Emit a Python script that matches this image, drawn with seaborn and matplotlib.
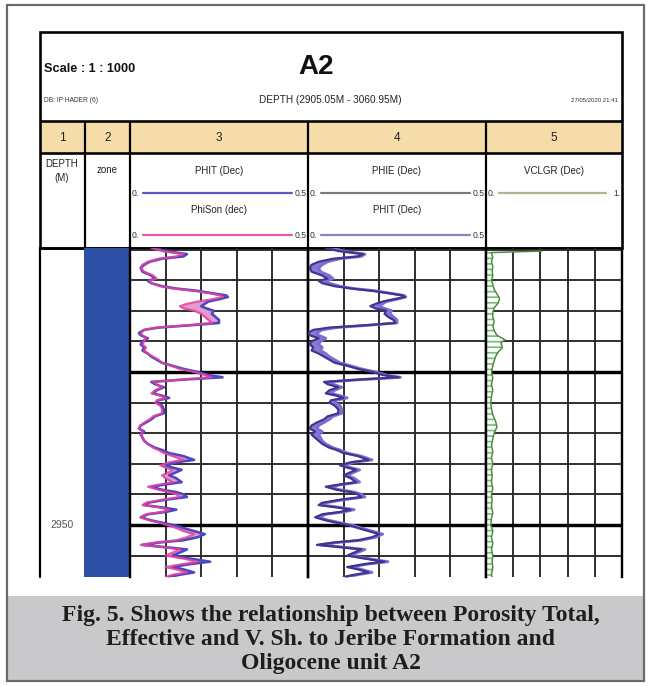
import matplotlib
matplotlib.use("Agg")
import matplotlib.pyplot as plt
from matplotlib.patches import Rectangle
import seaborn as sns

# ---------------- data ----------------
DEPTH = [2931.9, 2932.1, 2932.3, 2932.45, 2932.6, 2932.8, 2933.0, 2933.2, 2933.45, 2933.7,
         2933.9, 2934.05, 2934.2, 2934.4, 2934.55, 2934.7, 2934.85, 2935.0, 2935.1, 2935.25,
         2935.4, 2935.55, 2935.7, 2935.85, 2936.0, 2936.2, 2936.4, 2936.6, 2936.8, 2936.95,
         2937.1, 2937.25, 2937.45, 2937.6, 2937.8, 2938.0, 2938.2, 2938.4, 2938.6, 2938.8,
         2939.0, 2939.2, 2939.4, 2939.6, 2939.8, 2940.0, 2940.2, 2940.35, 2940.5, 2940.65,
         2940.8, 2941.0, 2941.2, 2941.4, 2941.55, 2941.7, 2941.85, 2942.0, 2942.2, 2942.45,
         2942.7, 2942.9, 2943.1, 2943.3, 2943.5, 2943.7, 2943.9, 2944.1, 2944.3, 2944.5,
         2944.7, 2944.95, 2945.1, 2945.3, 2945.5, 2945.75, 2945.9, 2946.1, 2946.25, 2946.4,
         2946.55, 2946.75, 2946.95, 2947.2, 2947.35, 2947.5, 2947.7, 2947.85, 2948.0, 2948.17,
         2948.35, 2948.55, 2948.7, 2948.85, 2949.0, 2949.15, 2949.3, 2949.5, 2949.7, 2949.9,
         2950.05, 2950.2, 2950.4, 2950.6, 2950.8, 2951.0, 2951.15, 2951.3, 2951.45, 2951.6,
         2951.8, 2952.0, 2952.2, 2952.4, 2952.55, 2952.75, 2952.9, 2953.1, 2953.25, 2953.4,
         2953.5]

PHIT = [0.07, 0.10, 0.16, 0.15, 0.09, 0.055, 0.04, 0.03, 0.035, 0.06,
        0.07, 0.05, 0.06, 0.09, 0.13, 0.19, 0.23, 0.27, 0.275, 0.25,
        0.22, 0.21, 0.20, 0.215, 0.235, 0.23, 0.24, 0.25, 0.25, 0.17,
        0.08, 0.04, 0.025, 0.03, 0.05, 0.035, 0.03, 0.04, 0.035, 0.05,
        0.06, 0.075, 0.09, 0.12, 0.15, 0.19, 0.22, 0.26, 0.15, 0.06,
        0.07, 0.095, 0.075, 0.065, 0.09, 0.11, 0.08, 0.075, 0.09, 0.095,
        0.095, 0.07, 0.06, 0.045, 0.03, 0.025, 0.04, 0.03, 0.035, 0.04,
        0.05, 0.07, 0.09, 0.11, 0.15, 0.18, 0.13, 0.10, 0.12, 0.145,
        0.13, 0.11, 0.13, 0.145, 0.10, 0.06, 0.09, 0.13, 0.15, 0.16,
        0.10, 0.05, 0.04, 0.09, 0.13, 0.10, 0.05, 0.03, 0.06, 0.10,
        0.13, 0.15, 0.18, 0.21, 0.19, 0.15, 0.08, 0.035, 0.10, 0.16,
        0.14, 0.12, 0.17, 0.225, 0.17, 0.12, 0.15, 0.18, 0.14, 0.11,
        0.12]

PHISON = [0.06, 0.09, 0.15, 0.13, 0.08, 0.05, 0.035, 0.03, 0.04, 0.065,
          0.075, 0.055, 0.06, 0.085, 0.12, 0.18, 0.22, 0.255, 0.26, 0.23,
          0.19, 0.16, 0.14, 0.15, 0.18, 0.20, 0.21, 0.22, 0.23, 0.16,
          0.075, 0.04, 0.03, 0.035, 0.045, 0.04, 0.035, 0.045, 0.04, 0.05,
          0.065, 0.08, 0.09, 0.115, 0.14, 0.18, 0.21, 0.23, 0.14, 0.065,
          0.075, 0.09, 0.07, 0.06, 0.085, 0.10, 0.075, 0.07, 0.085, 0.09,
          0.09, 0.065, 0.055, 0.04, 0.03, 0.025, 0.035, 0.03, 0.035, 0.04,
          0.05, 0.065, 0.08, 0.095, 0.12, 0.15, 0.11, 0.085, 0.10, 0.12,
          0.11, 0.09, 0.10, 0.12, 0.085, 0.05, 0.08, 0.11, 0.13, 0.14,
          0.09, 0.045, 0.035, 0.08, 0.11, 0.09, 0.045, 0.03, 0.055, 0.09,
          0.11, 0.13, 0.15, 0.18, 0.16, 0.13, 0.07, 0.03, 0.09, 0.14,
          0.12, 0.10, 0.15, 0.19, 0.15, 0.10, 0.13, 0.16, 0.12, 0.10,
          0.11]

PHIE = [0.05, 0.085, 0.155, 0.14, 0.07, 0.03, 0.01, 0.005, 0.01, 0.04,
        0.055, 0.03, 0.04, 0.075, 0.12, 0.18, 0.225, 0.265, 0.272, 0.24,
        0.21, 0.19, 0.175, 0.19, 0.22, 0.215, 0.225, 0.24, 0.245, 0.16,
        0.06, 0.015, 0.0, 0.005, 0.03, 0.01, 0.005, 0.015, 0.01, 0.03,
        0.045, 0.06, 0.075, 0.11, 0.14, 0.18, 0.21, 0.255, 0.14, 0.045,
        0.055, 0.085, 0.06, 0.05, 0.08, 0.10, 0.065, 0.06, 0.075, 0.085,
        0.085, 0.055, 0.045, 0.025, 0.01, 0.005, 0.02, 0.01, 0.02, 0.03,
        0.04, 0.06, 0.08, 0.10, 0.14, 0.17, 0.12, 0.09, 0.11, 0.135,
        0.12, 0.10, 0.12, 0.135, 0.09, 0.05, 0.08, 0.12, 0.14, 0.15,
        0.09, 0.04, 0.03, 0.08, 0.12, 0.09, 0.04, 0.02, 0.05, 0.09,
        0.12, 0.14, 0.17, 0.20, 0.18, 0.14, 0.07, 0.025, 0.09, 0.15,
        0.13, 0.11, 0.16, 0.215, 0.16, 0.11, 0.14, 0.17, 0.13, 0.10,
        0.11]

VCL_DEPTH = [2932.1, 2932.2, 2932.5, 2932.8, 2933.1, 2933.4, 2933.7, 2934.0, 2934.3, 2934.6,
             2934.9, 2935.2, 2935.5, 2935.8, 2936.1, 2936.4, 2936.7, 2937.0, 2937.3, 2937.6,
             2937.9, 2938.1, 2938.4, 2938.7, 2939.0, 2939.3, 2939.6, 2940.0, 2940.4, 2940.8,
             2941.2, 2941.6, 2942.0, 2942.4, 2942.8, 2943.2, 2943.6, 2944.0, 2944.4, 2944.8,
             2945.2, 2945.6, 2946.0, 2946.4, 2946.8, 2947.2, 2947.6, 2948.0, 2948.4, 2948.8,
             2949.2, 2949.6, 2950.0, 2950.4, 2950.8, 2951.2, 2951.6, 2952.0, 2952.4, 2952.8,
             2953.2, 2953.5]
VCLGR = [0.41, 0.04, 0.05, 0.04, 0.05, 0.045, 0.05, 0.04, 0.05, 0.06,
         0.08, 0.10, 0.09, 0.06, 0.05, 0.05, 0.06, 0.05, 0.06, 0.08,
         0.14, 0.11, 0.12, 0.09, 0.07, 0.06, 0.05, 0.04, 0.05, 0.04,
         0.05, 0.04, 0.035, 0.04, 0.05, 0.07, 0.08, 0.06, 0.05, 0.04,
         0.05, 0.04, 0.05, 0.04, 0.045, 0.04, 0.05, 0.04, 0.045, 0.04,
         0.05, 0.04, 0.035, 0.05, 0.04, 0.05, 0.04, 0.05, 0.045, 0.05,
         0.04, 0.045]

DEPTH_LABELS = [2950]
ZONE_TOP, ZONE_BASE = 2905.05, 3060.95
VIEW_TOP, VIEW_BASE = 2931.9, 2953.4
TRACK_NUMBERS = ["1", "2", "3", "4", "5"]
TITLE = "A2"
SCALE_TEXT = "Scale : 1 : 1000"
DB_TEXT = "DB: IP HADER (6)"
DEPTH_RANGE_TEXT = "DEPTH (2905.05M - 3060.95M)"
DATE_TEXT = "27/05/2020 21:41"
CAPTION_LINES = ["Fig. 5. Shows the relationship between Porosity Total,",
                 "Effective and V. Sh. to Jeribe Formation and",
                 "Oligocene unit A2"]

# ---------------- style ----------------
sns.set_style("white")
plt.rcParams["font.family"] = ["Liberation Sans", "DejaVu Sans"]
plt.rcParams["hatch.linewidth"] = 1.2

W, H = 651, 686
fig = plt.figure(figsize=(W / 100, H / 100), dpi=100)
fig.patch.set_facecolor("white")

bg = fig.add_axes([0, 0, 1, 1])
bg.set_xlim(0, W)
bg.set_ylim(H, 0)
bg.axis("off")

def lw(px):
    return px * 0.72

def px_axes(x0, y0, x1, y1):
    return fig.add_axes([x0 / W, 1 - y1 / H, (x1 - x0) / W, (y1 - y0) / H])

# outer frame and caption box
bg.add_patch(Rectangle((7, 596), 637, 85, facecolor="#c9c9cb", edgecolor="none"))
bg.add_patch(Rectangle((7, 5), 637, 676, facecolor="none", edgecolor="#6b6b6b", lw=lw(2.2)))
for i, line in enumerate(CAPTION_LINES):
    bg.text(331, 621 + 24 * i, line, ha="center", va="baseline", fontsize=17, fontweight="bold",
            family=["Liberation Serif", "DejaVu Serif"], color="#1e1e1e")

# chart header
L, R = 40, 622
TOP, NUMTOP, NUMBOT, BODY = 32, 121, 153, 248
BOTTOM = 577
COLS = [40, 85, 130, 308, 486, 622]
bg.add_patch(Rectangle((L, NUMTOP), R - L, NUMBOT - NUMTOP, facecolor="#f5dca8", edgecolor="none"))
bg.add_patch(Rectangle((L, TOP), R - L, BODY - TOP, facecolor="none", edgecolor="black", lw=lw(2.6)))
for yy in (NUMTOP, NUMBOT, BODY):
    bg.plot([L, R], [yy, yy], color="black", lw=lw(2.6), solid_capstyle="butt")
for xx in COLS[1:-1]:
    bg.plot([xx, xx], [NUMTOP, BODY], color="black", lw=lw(2.2), solid_capstyle="butt")
bg.plot([L, L], [BODY, BOTTOM], color="black", lw=lw(2.2))
for i, num in enumerate(TRACK_NUMBERS):
    bg.text((COLS[i] + COLS[i + 1]) / 2, (NUMTOP + NUMBOT) / 2 + 1, num, ha="center", va="center",
            fontsize=8.5, color="#222")

bg.text(44, 69, SCALE_TEXT, ha="left", va="center", fontsize=9.2, fontweight="bold", color="#111")
bg.text(316, 67, TITLE, ha="center", va="center", fontsize=20, fontweight="bold", color="#111")
bg.text(44, 101, DB_TEXT, ha="left", va="center", fontsize=4.8, color="#333")
bg.text(330, 100, DEPTH_RANGE_TEXT, ha="center", va="center", fontsize=7.2, color="#222")
bg.text(618, 101, DATE_TEXT, ha="right", va="center", fontsize=4.3, color="#333")

# curve header cells
bg.text(62, 171, "DEPTH\n(M)", ha="center", va="center", fontsize=7, color="#222", linespacing=1.6)
bg.text(107, 170, "zone", ha="center", va="center", fontsize=7, color="#222")

def header_curve(x0, x1, y_label, y_line, label, color, lo, hi):
    bg.text((x0 + x1) / 2, y_label, label, ha="center", va="center", fontsize=7, color="#222")
    bg.text(x0 + 2, y_line, lo, ha="left", va="center", fontsize=6.2, color="#333")
    bg.text(x1 - 1, y_line, hi, ha="right", va="center", fontsize=6.2, color="#333")
    bg.plot([x0 + 13, x1 - 16], [y_line, y_line], color=color, lw=lw(2.2))

header_curve(130, 308, 171, 193, "PHIT (Dec)", "#5c58c4", "0.", "0.5")
header_curve(130, 308, 210, 235, "PhiSon (dec)", "#e25aa8", "0.", "0.5")
header_curve(308, 486, 171, 193, "PHIE (Dec)", "#7a7a7a", "0.", "0.5")
header_curve(308, 486, 210, 235, "PHIT (Dec)", "#8a86b8", "0.", "0.5")
header_curve(486, 622, 171, 193, "VCLGR (Dec)", "#a9b98e", "0.", "1.")

# ---------------- tracks ----------------
def setup_track(ax, xmax, xstep):
    ax.set_xlim(0, xmax)
    ax.set_ylim(VIEW_BASE, VIEW_TOP)
    ax.set_facecolor("none")
    ax.set_xticks([xstep * k for k in range(1, 5)])
    ax.set_yticks(list(range(2932, 2954, 2)))
    ax.grid(True, color="#2a2a2a", lw=lw(1.9))
    ax.tick_params(length=0, labelbottom=False, labelleft=False)
    for s in ("top", "bottom"):
        ax.spines[s].set_visible(False)
    for s in ("left", "right"):
        ax.spines[s].set_color("black")
        ax.spines[s].set_linewidth(lw(2.4))
    for d in (2940, 2950):
        ax.axhline(d, color="black", lw=lw(3.4), zorder=1)
    ax.set_xlabel("")
    ax.set_ylabel("")

# track 1 - depth
ax1 = px_axes(COLS[0], BODY, COLS[1], BOTTOM)
ax1.set_ylim(VIEW_BASE, VIEW_TOP)
ax1.set_xlim(0, 1)
ax1.axis("off")
for d in DEPTH_LABELS:
    ax1.text(0.5, d, str(d), ha="center", va="center", fontsize=7.5, color="#555")

# track 2 - zone
ax2 = px_axes(COLS[1] - 1, BODY, COLS[2], BOTTOM)
ax2.set_ylim(VIEW_BASE, VIEW_TOP)
ax2.set_xlim(0, 1)
ax2.axis("off")
ax2.fill_betweenx([ZONE_TOP, ZONE_BASE], 0, 1, color="#2e4fa6", lw=0)

# track 3 - PHIT / PhiSon
ax3 = px_axes(COLS[2], BODY, COLS[3], BOTTOM)
ax3.fill_betweenx(DEPTH, PHIT, PHISON, color="#e59bcf", lw=0, zorder=2)
sns.lineplot(x=PHIT, y=DEPTH, orient="y", sort=False, estimator=None, ax=ax3,
             color="#4f47c0", lw=lw(2.6), zorder=3)
sns.lineplot(x=PHISON, y=DEPTH, orient="y", sort=False, estimator=None, ax=ax3,
             color="#e2409f", lw=lw(2.2), zorder=4, alpha=0.85)
setup_track(ax3, 0.5, 0.1)

# track 4 - PHIE / PHIT
ax4 = px_axes(COLS[3], BODY, COLS[4], BOTTOM)
ax4.fill_betweenx(DEPTH, PHIE, PHIT, color="#8a78d2", lw=0, zorder=2)
sns.lineplot(x=PHIT, y=DEPTH, orient="y", sort=False, estimator=None, ax=ax4,
             color="#7c6fd0", lw=lw(2.8), zorder=3)
sns.lineplot(x=PHIE, y=DEPTH, orient="y", sort=False, estimator=None, ax=ax4,
             color="#3f3490", lw=lw(2.2), zorder=4)
setup_track(ax4, 0.5, 0.1)

# track 5 - VCLGR
ax5 = px_axes(COLS[4], BODY, COLS[5], BOTTOM)
ax5.fill_betweenx(VCL_DEPTH, 0, VCLGR, facecolor="white", edgecolor="#6fbf72", hatch="---", lw=0, zorder=2)
sns.lineplot(x=VCLGR, y=VCL_DEPTH, orient="y", sort=False, estimator=None, ax=ax5,
             color="#4f8a3c", lw=lw(1.5), zorder=3)
setup_track(ax5, 1.0, 0.2)

fig.savefig("out.png", dpi=100)
